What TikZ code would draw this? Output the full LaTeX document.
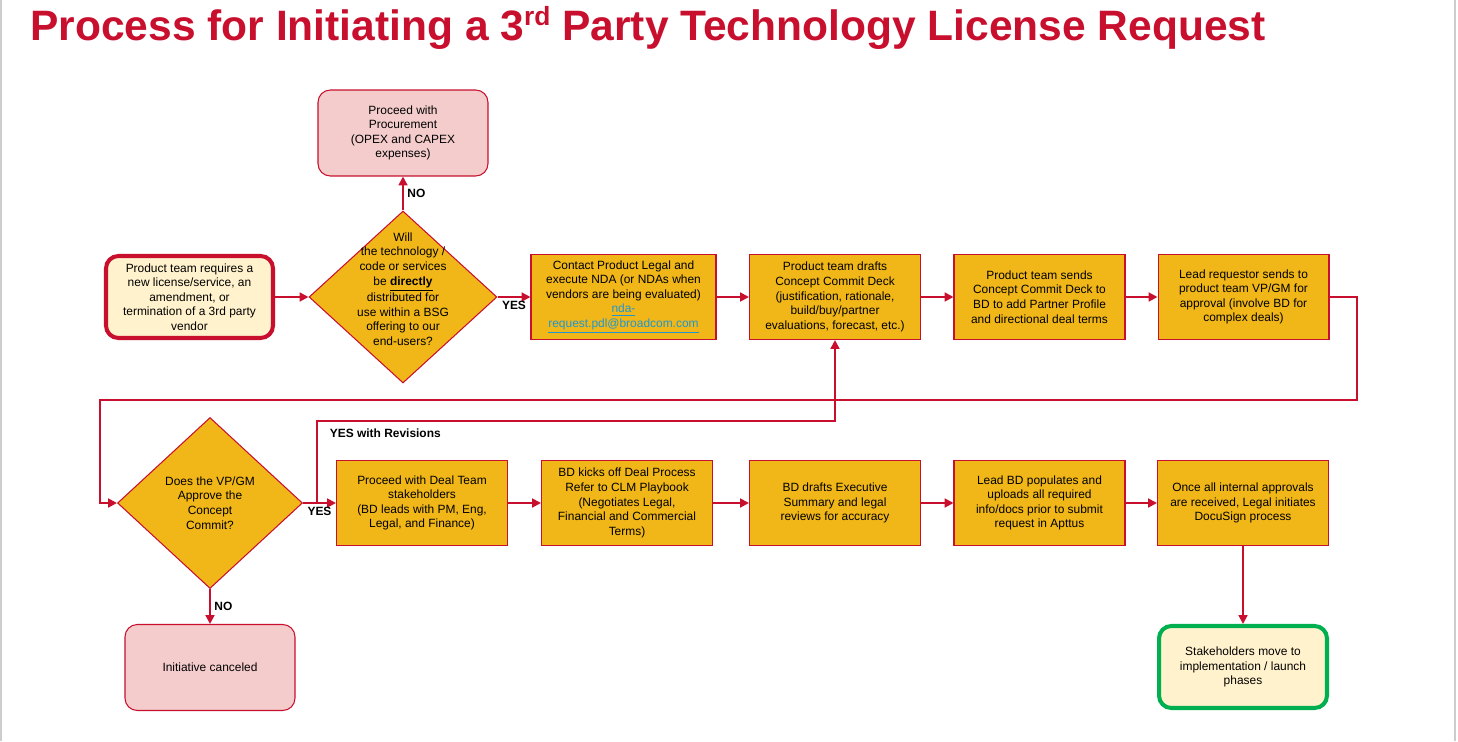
\documentclass[tikz,border=0pt]{standalone}
\usepackage{fontspec}
\setmainfont{Liberation Sans}
\usetikzlibrary{shapes.geometric,arrows.meta}

\definecolor{flowred}{RGB}{200,16,46}
\definecolor{stepgold}{RGB}{241,183,24}
\definecolor{endpink}{RGB}{244,204,204}
\definecolor{startcream}{RGB}{255,242,204}
\definecolor{donegreen}{RGB}{0,176,80}
\definecolor{linkblue}{RGB}{30,150,210}
\definecolor{framegray}{RGB}{205,205,205}

\tikzset{
  boxtext/.style={font=\fontsize{6.8}{8.3}\selectfont, align=center, text=black},
  stepbox/.style={boxtext, draw=flowred, fill=stepgold, line width=0.6pt,
    minimum width=3.42cm, minimum height=1.7cm, inner sep=1pt},
  endbox/.style={boxtext, draw=flowred, fill=endpink, line width=0.6pt,
    rounded corners=7pt, minimum width=3.4cm, minimum height=1.72cm},
  startbox/.style={boxtext, draw=flowred, fill=startcream, line width=2.3pt,
    rounded corners=7pt, minimum width=3.34cm, minimum height=1.64cm},
  donebox/.style={boxtext, draw=donegreen, fill=startcream, line width=2.3pt,
    rounded corners=7pt, minimum width=3.36cm, minimum height=1.64cm},
  decision/.style={diamond, draw=flowred, fill=stepgold, line width=0.6pt,
    inner sep=0pt},
  flow/.style={draw=flowred, line width=1.1pt,
    -{Triangle[length=5pt,width=5pt]}},
  tag/.style={font=\fontsize{6.8}{8}\selectfont\bfseries, text=black, inner sep=2pt}
}

\begin{document}
\begin{tikzpicture}[x=0.02cm,y=-0.02cm]
  \useasboundingbox (0,0) rectangle (1458,741);
  \draw[framegray, line width=0.8pt] (1,0) -- (1,741);
  \draw[framegray, line width=0.8pt] (1455,0) -- (1455,741);

  \node[anchor=base west, inner sep=0pt, text=flowred,
        font=\fontsize{24.2}{26}\selectfont\bfseries] (title) at (30,40)
    {Process for Initiating a 3{\fontsize{15}{15}\selectfont\raisebox{0.55em}{rd}} Party Technology License Request};

  % first row
  \node[startbox] (start) at (189.5,297) {Product team requires a\\new license/service, an\\amendment, or\\termination of a 3rd party\\vendor};
  \node[decision, minimum width=3.76cm, minimum height=3.44cm] (q1) at (403,297) {};
  \node[boxtext] (q1text) at (403,289) {Will\\the technology /\\code or services\\be \underline{\textbf{directly}}\\distributed for\\use within a BSG\\offering to our\\end-users?};
  \node[endbox] (proc) at (403,133) {Proceed with\\Procurement\\(OPEX and CAPEX\\expenses)};
  \node[stepbox, minimum width=3.7cm] (nda) at (623.5,297) {Contact Product Legal and\\execute NDA (or NDAs when\\vendors are being evaluated)\\{\color{linkblue}\underline{nda-}}\\{\color{linkblue}\underline{request.pdl@broadcom.com}}};
  \node[stepbox] (draft) at (835,297) {Product team drafts\\Concept Commit Deck\\(justification, rationale,\\build/buy/partner\\evaluations, forecast, etc.)};
  \node[stepbox] (sends) at (1039.5,297) {Product team sends\\Concept Commit Deck to\\BD to add Partner Profile\\and directional deal terms};
  \node[stepbox] (lead) at (1243.5,297) {Lead requestor sends to\\product team VP/GM for\\approval (involve BD for\\complex deals)};

  % second row
  \node[decision, minimum width=3.7cm, minimum height=3.42cm] (q2) at (210,503) {};
  \node[boxtext] (q2text) at (q2) {Does the VP/GM\\Approve the\\Concept\\Commit?};
  \node[stepbox] (deal) at (422,503) {Proceed with Deal Team\\stakeholders\\(BD leads with PM, Eng,\\Legal, and Finance)};
  \node[stepbox] (kick) at (627,503) {BD kicks off Deal Process\\Refer to CLM Playbook\\(Negotiates Legal,\\Financial and Commercial\\Terms)};
  \node[stepbox] (exec) at (835,503) {BD drafts Executive\\Summary and legal\\reviews for accuracy};
  \node[stepbox] (upload) at (1039.5,503) {Lead BD populates and\\uploads all required\\info/docs prior to submit\\request in Apttus};
  \node[stepbox] (sign) at (1243,503) {Once all internal approvals\\are received, Legal initiates\\DocuSign process};

  % third row
  \node[endbox] (cancel) at (210,667.5) {Initiative canceled};
  \node[donebox] (done) at (1243,667) {Stakeholders move to\\implementation / launch\\phases};

  \coordinate (loopR) at (1357,400);
  \coordinate (loopL) at (100,400);
  \coordinate (revUp) at (317,421);

  \draw[flow] (start.east) -- (q1.west);
  \draw[flow] (q1.north) -- (proc.south) node[tag, midway, right] {NO};
  \draw[flow] (q1.east) -- (nda.west) node[tag, midway, below] {YES};
  \draw[flow] (nda) -- (draft);
  \draw[flow] (draft) -- (sends);
  \draw[flow] (sends) -- (lead);
  \draw[flow] (lead.east) -| (loopR) -- (loopL) |- (q2.west);
  \draw[flow] (q2.east) -- (deal.west) node[tag, midway, below] {YES};
  \draw[flow] (revUp |- q2.east) -- (revUp) -| (draft.south);
  \node[tag, anchor=west] (revtag) at (326,433) {YES with Revisions};
  \draw[flow] (deal) -- (kick);
  \draw[flow] (kick) -- (exec);
  \draw[flow] (exec) -- (upload);
  \draw[flow] (upload) -- (sign);
  \draw[flow] (sign.south) -- (done.north);
  \draw[flow] (q2.south) -- (cancel.north) node[tag, midway, right] {NO};
\end{tikzpicture}
\end{document}
